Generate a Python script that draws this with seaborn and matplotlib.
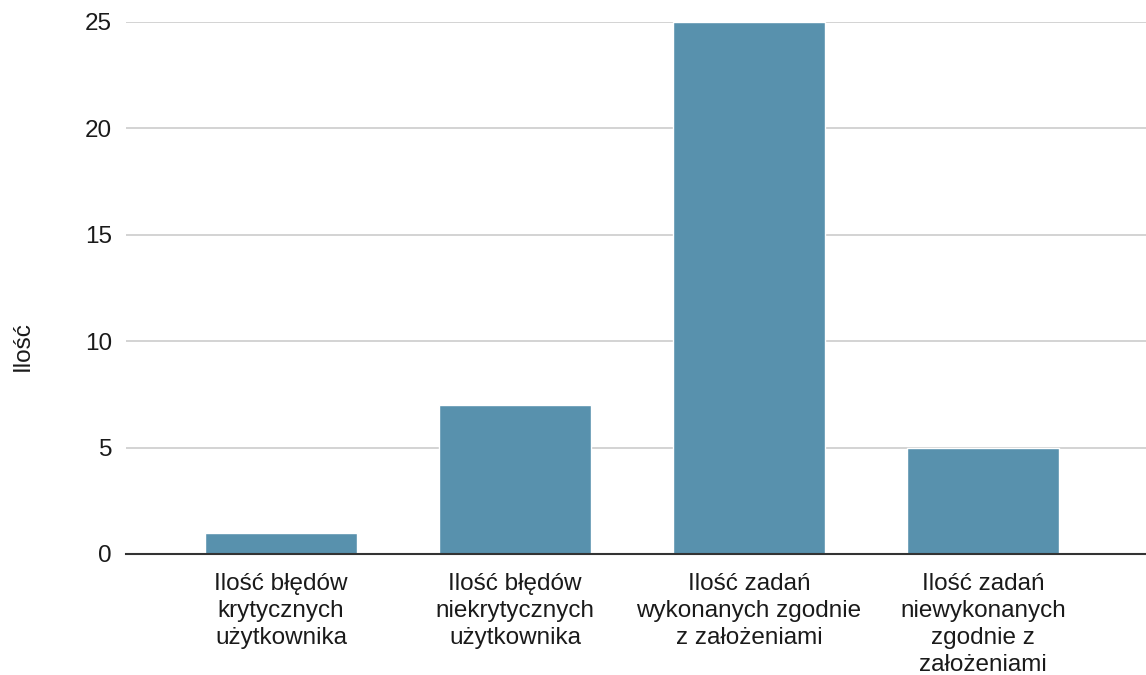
import matplotlib
matplotlib.use("Agg")
import matplotlib.pyplot as plt
import seaborn as sns
import pandas as pd

categories = [
    "Ilość błędów\nkrytycznych\nużytkownika",
    "Ilość błędów\nniekrytycznych\nużytkownika",
    "Ilość zadań\nwykonanych zgodnie\nz założeniami",
    "Ilość zadań\nniewykonanych\nzgodnie z\nzałożeniami",
]
values = [1, 7, 25, 5]
y_ticks = [0, 5, 10, 15, 20, 25]
y_label = "Ilość"

sns.set_theme(style="white")
plt.rcParams['font.family'] = ['Liberation Sans', 'DejaVu Sans']

df = pd.DataFrame({"cat": categories, "val": values})

fig = plt.figure(figsize=(11.46, 6.75), dpi=100)
ax = fig.add_axes([126/1146, 1 - 554/675, 1 - 126/1146, (554 - 22)/675])

sns.barplot(data=df, x="cat", y="val", color="#5891AD", saturation=1, width=0.65, ax=ax, zorder=3)

ax.set_xlim(-0.662, 3.697)
ax.set_ylim(0, 25)
ax.set_yticks(y_ticks)
ax.yaxis.grid(True, color="#CCCCCC", linewidth=1.2, zorder=0)
ax.tick_params(axis="y", length=0, pad=10, labelsize=17.5, labelcolor="#1a1a1a")
ax.tick_params(axis="x", length=0, pad=14, labelsize=17.5, labelcolor="#1a1a1a")
for lbl in ax.get_xticklabels():
    lbl.set_linespacing(1.28)
for s in ["top", "right", "left"]:
    ax.spines[s].set_visible(False)
ax.spines["bottom"].set_color("#333333")
ax.spines["bottom"].set_linewidth(1.5)
ax.spines["bottom"].set_zorder(4)

ax.set_xlabel("")
ax.set_ylabel(y_label, fontsize=17.5, color="#1a1a1a")
ax.yaxis.set_label_coords(-0.09, 0.39)

fig.savefig("out.png", dpi=100)
